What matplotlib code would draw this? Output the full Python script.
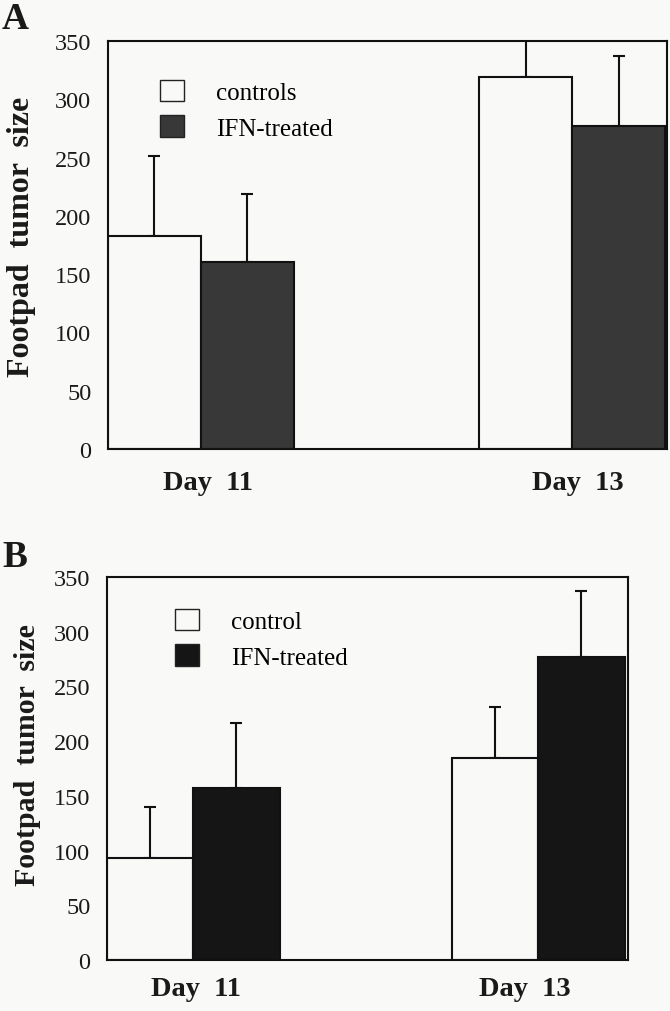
import matplotlib
matplotlib.use("Agg")
import matplotlib.pyplot as plt
from matplotlib.patches import Patch

# ---------------- data ----------------
days = ["Day  11", "Day  13"]

a_controls = [183, 319]
a_controls_err = [68, 50]
a_ifn = [160, 277]
a_ifn_err = [59, 60]

b_control = [93, 185]
b_control_err = [47, 46]
b_ifn = [157, 277]
b_ifn_err = [60, 60]

y_ticks = [0, 50, 100, 150, 200, 250, 300, 350]

serif = ["Liberation Serif", "DejaVu Serif"]
plt.rcParams["font.family"] = serif

BG = "#f9f9f8"
fig = plt.figure(figsize=(6.7, 10.12), dpi=100, facecolor=BG)


def panel(rect, ctrl, ctrl_err, ifn, ifn_err, ifn_color, ctrl_label,
          xlim, leg_anchor, letter, letter_y, day_offsets, day_drop,
          ylab_size, ylab_pos):
    ax = fig.add_axes(rect, facecolor=BG)
    w = 0.25
    xs = [0, 1]
    xc = [x - w / 2 for x in xs]
    xi = [x + w / 2 for x in xs]
    ax.bar(xc, ctrl, width=w, color=BG, edgecolor="#111111", linewidth=1.5, zorder=2)
    ax.bar(xi, ifn, width=w, color=ifn_color, edgecolor="#111111", linewidth=1.5, zorder=2)
    ax.errorbar(xc, ctrl, yerr=[[0, 0], ctrl_err], fmt="none", ecolor="#111111",
                elinewidth=1.5, capsize=4, capthick=1.5, zorder=1)
    ax.errorbar(xi, ifn, yerr=[[0, 0], ifn_err], fmt="none", ecolor="#111111",
                elinewidth=1.5, capsize=4, capthick=1.5, zorder=1)
    ax.set_xlim(*xlim)
    ax.set_ylim(0, 350)
    ax.set_yticks(y_ticks)
    ax.set_yticklabels([str(t) for t in y_ticks], fontsize=17.5, color="#1a1a1a")
    ax.tick_params(axis="y", length=0, pad=12)
    ax.set_xticks([])
    for s in ax.spines.values():
        s.set_linewidth(1.5)
        s.set_color("#111111")
    for i, d in enumerate(days):
        ax.annotate(d, xy=(xs[i], 0), xycoords=("data", "data"),
                    xytext=(day_offsets[i], -day_drop), textcoords="offset points",
                    ha="center", va="top", fontsize=20.5, fontweight="bold",
                    color="#1a1a1a")
    lab = ax.set_ylabel("Footpad  tumor  size", fontsize=ylab_size, fontweight="bold",
                        color="#1a1a1a")
    lab.set_va("center")
    ax.yaxis.set_label_coords(*ylab_pos)
    handles = [Patch(facecolor=BG, edgecolor="#222222", linewidth=1.0),
               Patch(facecolor=ifn_color, edgecolor="#222222", linewidth=1.0)]
    ax.legend(handles, [ctrl_label, "IFN-treated"], loc="upper left",
              bbox_to_anchor=leg_anchor, frameon=False, fontsize=18,
              handlelength=0.95, handleheight=0.95, handletextpad=1.3,
              labelspacing=0.45, borderpad=0, borderaxespad=0)
    fig.text(2 / 670, 1 - letter_y / 1012, letter, fontsize=27, fontweight="bold",
             ha="left", va="top", color="#1a1a1a")
    return ax


panel([108 / 670, (1012 - 450) / 1012, 559 / 670, 408 / 1012],
      a_controls, a_controls_err, a_ifn, a_ifn_err, "#383838", "controls",
      (-0.25, 1.255), (0.093, 0.905), "A", 2, (5, 4), 15,
      23, (-0.155, 0.522))

panel([107 / 670, (1012 - 961) / 1012, 521 / 670, 383 / 1012],
      b_control, b_control_err, b_ifn, b_ifn_err, "#151515", "control",
      (-0.25, 1.26), (0.1305, 0.917), "B", 540, (2, -10), 11.5,
      21.5, (-0.153, 0.538))

fig.savefig("out.png", dpi=100, facecolor=BG)
